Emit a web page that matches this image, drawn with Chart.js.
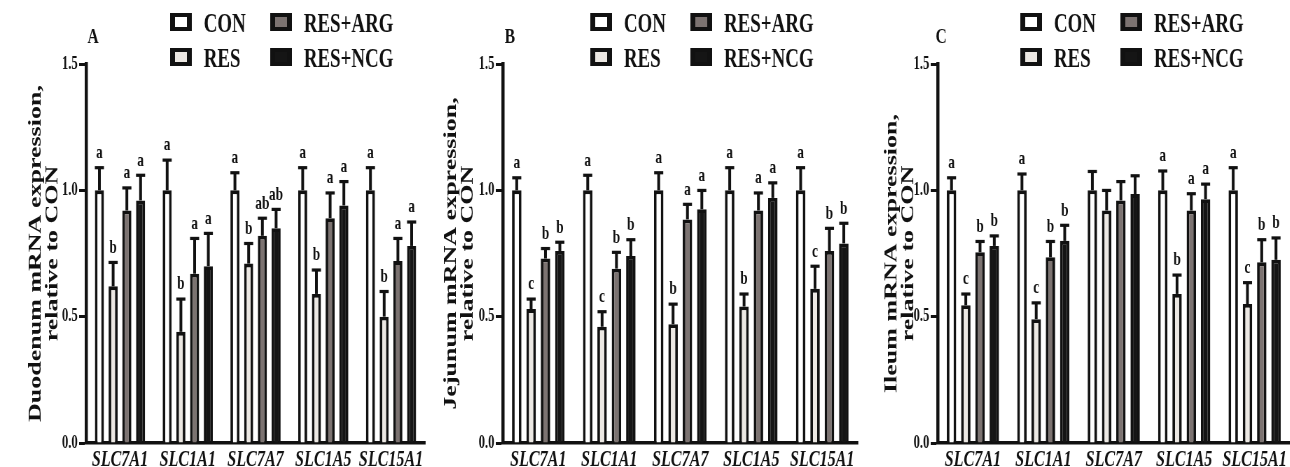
<!DOCTYPE html>
<html>
<head>
<meta charset="utf-8">
<script src="https://cdn.jsdelivr.net/npm/chart.js@4.4.0/dist/chart.umd.min.js"></script>
<style>
  body { margin: 0; background: #fff; width: 1290px; height: 467px; overflow: hidden; position: relative; }
  /* the figure is squeezed sideways, so each panel is drawn wide and scaled down */
  .panel { position: absolute; top: 0; width: 614px; height: 467px; transform: scaleX(0.7); transform-origin: 0 0; }
</style>
</head>
<body>
<div class="panel" style="left:0"><canvas id="cA" width="614" height="467"></canvas></div>
<div class="panel" style="left:430px"><canvas id="cB" width="614" height="467"></canvas></div>
<div class="panel" style="left:860px"><canvas id="cC" width="614" height="467"></canvas></div>
<script>
const genes = ['SLC7A1', 'SLC1A1', 'SLC7A7', 'SLC1A5', 'SLC15A1'];
const groupNames = ['CON', 'RES', 'RES+ARG', 'RES+NCG'];
const yTicks = [0, 0.5, 1.0, 1.5];

// A - duodenum: rows are CON, RES, RES+ARG, RES+NCG
const duoMean = [
  [1, 1, 1, 1, 1],
  [0.62, 0.44, 0.71, 0.59, 0.50],
  [0.92, 0.67, 0.82, 0.89, 0.72],
  [0.96, 0.70, 0.85, 0.94, 0.78]
];
const duoErr = [
  [0.09, 0.12, 0.07, 0.09, 0.09],
  [0.095, 0.13, 0.08, 0.095, 0.10],
  [0.09, 0.14, 0.07, 0.10, 0.09],
  [0.10, 0.13, 0.075, 0.095, 0.095]
];
const duoSig = [
  ['a', 'a', 'a', 'a', 'a'],
  ['b', 'b', 'b', 'b', 'b'],
  ['a', 'a', 'ab', 'a', 'a'],
  ['a', 'a', 'ab', 'a', 'a']
];

// B - jejunum
const jejMean = [
  [1, 1, 1, 1, 1],
  [0.53, 0.46, 0.47, 0.54, 0.61],
  [0.73, 0.69, 0.885, 0.92, 0.76],
  [0.76, 0.74, 0.925, 0.97, 0.79]
];
const jejErr = [
  [0.05, 0.06, 0.07, 0.09, 0.09],
  [0.04, 0.06, 0.08, 0.05, 0.09],
  [0.04, 0.065, 0.06, 0.07, 0.09],
  [0.035, 0.065, 0.075, 0.06, 0.08]
];
const jejSig = [
  ['a', 'a', 'a', 'a', 'a'],
  ['c', 'c', 'b', 'b', 'c'],
  ['b', 'b', 'a', 'a', 'b'],
  ['b', 'b', 'a', 'a', 'b']
];

// C - ileum
const ileMean = [
  [1, 1, 1, 1, 1],
  [0.545, 0.49, 0.92, 0.59, 0.55],
  [0.755, 0.735, 0.96, 0.92, 0.715],
  [0.78, 0.80, 0.985, 0.965, 0.725]
];
const ileErr = [
  [0.05, 0.065, 0.075, 0.077, 0.09],
  [0.045, 0.065, 0.08, 0.075, 0.085],
  [0.043, 0.063, 0.075, 0.067, 0.09],
  [0.04, 0.062, 0.073, 0.06, 0.087]
];
const ileSig = [
  ['a', 'a', '', 'a', 'a'],
  ['c', 'c', '', 'b', 'c'],
  ['b', 'b', '', 'a', 'b'],
  ['b', 'b', '', 'a', 'b']
];

const fillColors = ['#ffffff', '#ece8e3', '#7c7371', '#151515'];
const ink = '#111';
const serif = "'Liberation Serif', 'Times New Roman', serif";

// error bars, letters, 2x2 legend and panel letter
const barExtras = {
  id: 'barExtras',
  afterDatasetsDraw(chart) {
    const ctx = chart.ctx, y = chart.scales.y;
    ctx.save();
    ctx.fillStyle = ink;
    ctx.font = 'bold 19px ' + serif;
    ctx.textAlign = 'center';
    ctx.textBaseline = 'bottom';
    chart.data.datasets.forEach((ds, i) => {
      chart.getDatasetMeta(i).data.forEach((bar, j) => {
        const top = y.getPixelForValue(ds.data[j] + ds.err[j]);
        ctx.fillRect(bar.x - 2, top, 4, bar.y - top);
        ctx.fillRect(bar.x - 6.5, top - 1.5, 13, 3.2);
        if (ds.sig[j]) ctx.fillText(ds.sig[j], bar.x, top - 5);
      });
    });
    ctx.restore();
  },
  afterDraw(chart, args, opts) {
    const ctx = chart.ctx;
    ctx.save();
    ctx.font = 'bold 27px ' + serif;
    ctx.textBaseline = 'middle';
    ctx.textAlign = 'left';
    chart.data.datasets.forEach((ds, i) => {
      const bx = opts.legendX + Math.floor(i / 2) * 143;
      const by = 13 + (i % 2) * 35;
      ctx.fillStyle = ink;
      ctx.fillRect(bx, by, 31, 18);
      ctx.fillStyle = ds.backgroundColor;
      ctx.fillRect(bx + 7, by + 4, 17, 10);
      ctx.fillStyle = ink;
      ctx.fillText(ds.label, bx + 48, by + 12);
    });
    ctx.font = 'bold 22px ' + serif;
    ctx.textAlign = 'center';
    ctx.fillText(opts.letter, opts.letterX, 37);
    ctx.restore();
  }
};

function panel(id, letter, yTitle, means, errs, sigs, g) {
  new Chart(document.getElementById(id), {
    type: 'bar',
    data: {
      labels: genes,
      datasets: groupNames.map((name, i) => ({
        label: name,
        data: means[i],
        err: errs[i],
        sig: sigs[i],
        backgroundColor: fillColors[i],
        borderColor: ink,
        borderWidth: 3.8,
        barPercentage: 0.66,
        categoryPercentage: 0.81
      }))
    },
    options: {
      responsive: false,
      animation: false,
      layout: { padding: { top: 64, right: g.right, left: 0, bottom: 0 } },
      plugins: {
        legend: { display: false },
        tooltip: { enabled: false },
        barExtras: { letter: letter, letterX: g.letterX, legendX: g.legendX }
      },
      scales: {
        x: {
          grid: { display: false, drawTicks: false },
          border: { display: true, width: 3.5, color: ink },
          ticks: {
            color: ink, padding: 3, autoSkip: false, maxRotation: 0, minRotation: 0,
            font: { family: serif, size: 23, style: 'italic', weight: 'bold' }
          },
          afterFit: s => { s.height = 24; }
        },
        y: {
          min: 0,
          max: 1.5,
          afterBuildTicks: s => { s.ticks = yTicks.map(v => ({ value: v })); },
          grid: { drawOnChartArea: false, drawTicks: true, tickLength: 10, tickWidth: 3, tickColor: ink },
          border: { display: true, width: 4.5, color: ink },
          ticks: { color: ink, padding: 2, font: { family: serif, size: 18, weight: 'bold' }, callback: v => v.toFixed(1) },
          title: {
            display: true,
            text: yTitle,
            color: ink,
            font: { family: serif, size: 26, weight: 'bold', lineHeight: 0.92 },
            padding: { top: g.titlePad, bottom: 0 }
          },
          afterFit: s => { s.width = g.axis; }
        }
      }
    },
    plugins: [barExtras]
  });
}

panel('cA', 'A', ['Duodenum mRNA expression,', 'relative to CON'], duoMean, duoErr, duoSig,
  { axis: 123, right: 7, titlePad: 39, letterX: 133, legendX: 243 });
panel('cB', 'B', ['Jejunum mRNA expression,', 'relative to CON'], jejMean, jejErr, jejSig,
  { axis: 104, right: 3, titlePad: 18, letterX: 114, legendX: 229 });
panel('cC', 'C', ['Ileum mRNA expression,', 'relative to CON'], ileMean, ileErr, ileSig,
  { axis: 111, right: 0, titlePad: 33, letterX: 116, legendX: 229 });
</script>
</body>
</html>
